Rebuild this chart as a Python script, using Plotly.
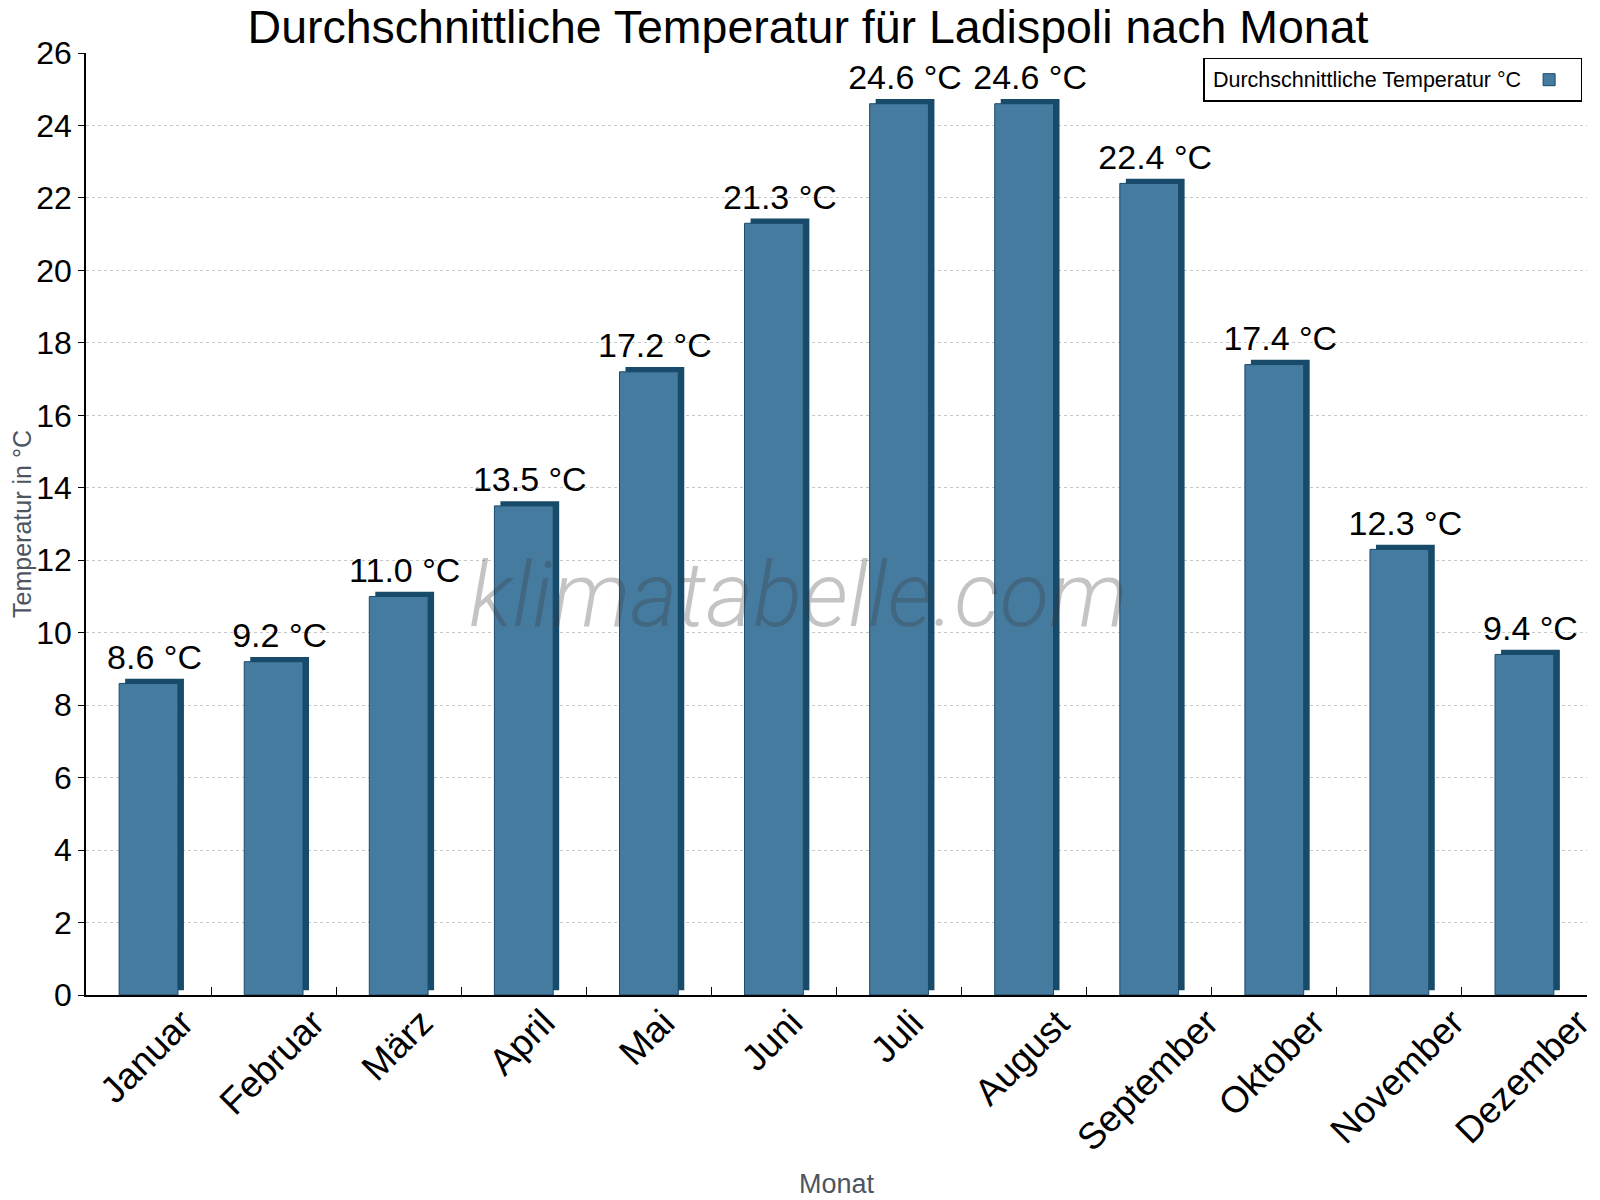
import plotly.graph_objects as go

monate = ["Januar", "Februar", "März", "April", "Mai", "Juni", "Juli",
          "August", "September", "Oktober", "November", "Dezember"]
temperatur = [8.6, 9.2, 11.0, 13.5, 17.2, 21.3, 24.6, 24.6, 22.4, 17.4, 12.3, 9.4]
beschriftung = [f"{t:.1f} °C" for t in temperatur]

HELL = "#467ba0"
DUNKEL = "#184a6a"
FONT = "Liberation Sans, Arial, sans-serif"

fig = go.Figure()

# dunkle Kopie leicht versetzt -> 3D-Kante oben und rechts
fig.add_trace(go.Bar(
    x=monate, y=temperatur, base=0.13,
    width=0.47, offset=-0.187,
    marker=dict(color=DUNKEL, line_width=0),
    text=beschriftung, textposition="outside", cliponaxis=False,
    constraintext="none",
    textfont=dict(size=34, color="black", family=FONT),
    showlegend=False, hoverinfo="skip",
))
fig.add_trace(go.Bar(
    x=monate, y=temperatur,
    width=0.47, offset=-0.235,
    marker=dict(color=HELL, line=dict(color=DUNKEL, width=1)),
    name=" ",
))

# Monatsnamen: um ihre Mitte gedreht, wie im Original
for m in monate:
    fig.add_annotation(
        text=m, x=m, xref="x", y=0, yref="paper",
        xanchor="center", yanchor="top", textangle=-45,
        xshift=-2, yshift=-4, showarrow=False,
        font=dict(size=37, color="black", family=FONT),
    )

fig.add_annotation(
    text="klimatabelle.com", xref="paper", yref="paper",
    x=0.475, y=0.425, showarrow=False,
    font=dict(family="Roboto", size=91, color="rgba(60,60,60,0.3)", weight=300, style="italic"),
)

fig.update_layout(
    width=1600, height=1200,
    barmode="overlay",
    plot_bgcolor="white", paper_bgcolor="white",
    margin=dict(l=78, r=21, t=45, b=213),
    font=dict(family=FONT, color="black"),
    title=dict(text="Durchschnittliche Temperatur für Ladispoli nach Monat",
               x=0.5, xanchor="center", y=0.998, yanchor="top",
               font=dict(size=46.5, color="black")),
    legend=dict(
        x=0.997, xanchor="right", y=0.995, yanchor="top",
        bgcolor="white", bordercolor="black", borderwidth=1.5,
        font=dict(size=21.5), entrywidth=10,
        title=dict(text="\u00a0Durchschnittliche Temperatur °C", side="left",
                   font=dict(size=21.5)),
    ),
    xaxis=dict(
        automargin=False,
        showline=True, linecolor="black", linewidth=1.5,
        ticks="inside", tickson="boundaries", ticklen=8, tickcolor="black",
        showticklabels=False,
        title=dict(text="Monat", font=dict(size=27, color="#4d5561"), standoff=178),
        range=[-0.5, 11.5],
    ),
    yaxis=dict(
        automargin=False,
        range=[0, 26], dtick=2,
        showline=True, linecolor="black", linewidth=1.5,
        ticks="outside", ticklen=6, tickcolor="black",
        tickfont=dict(size=32),
        showgrid=True, gridcolor="#c8c8c8", griddash="dot", gridwidth=1,
        zeroline=False,
        title=dict(text="Temperatur in °C", font=dict(size=25, color="#4d5561"), standoff=8),
    ),
)

fig.write_html("out.html")
